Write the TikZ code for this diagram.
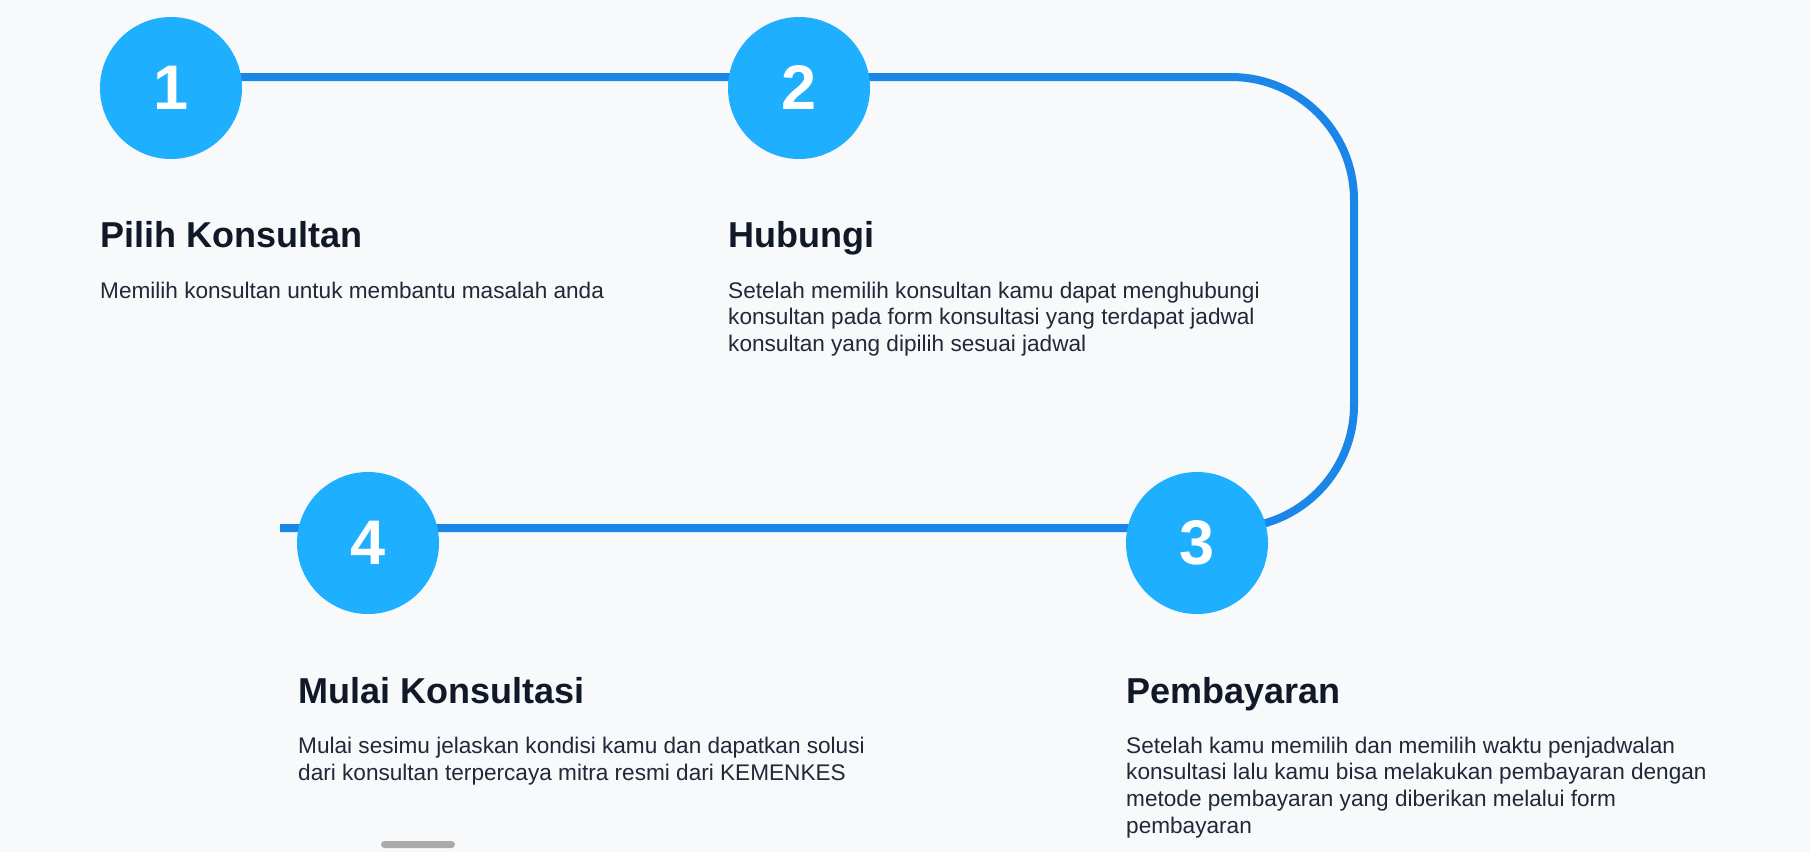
\documentclass[tikz,border=0pt]{standalone}
\usepackage{fontspec}
\setmainfont{Liberation Sans}
\usetikzlibrary{backgrounds}
\definecolor{bgpage}{HTML}{F8F9FB}
\definecolor{dotblue}{HTML}{1EAFFE}
\definecolor{trackblue}{HTML}{1A86E8}
\definecolor{titleink}{HTML}{111827}
\definecolor{bodyink}{HTML}{1F2937}
\definecolor{bargrey}{HTML}{AAAAAA}
\tikzset{
  stepdot/.style={circle, fill=dotblue, minimum size=142pt, inner sep=0pt, text=white, font=\fontsize{63}{63}\selectfont\bfseries},
  track/.style={trackblue, line width=8pt, rounded corners=123pt},
  steptitle/.style={anchor=base west, inner sep=0pt, text=titleink, font=\fontsize{36}{43}\selectfont\bfseries},
  stepbody/.style={anchor=base west, inner sep=0pt, align=left, text=bodyink, font=\fontsize{22.6}{26.7}\selectfont},
}
\begin{document}
\begin{tikzpicture}[x=1pt,y=-1pt]
    % Page frame
    \useasboundingbox (0,0) rectangle (1810,852);
    
    % Step circles
    \foreach \n/\x/\y in {1/171/88, 2/799/88, 3/1197/543, 4/368/543}
    \node[stepdot] (s\n) at (\x,\y) {\n};
    
    % Track behind the circles
    \coordinate (c1) at (1354,77);
    \coordinate (c2) at (1354,528);
    \coordinate (tail) at (280,528);
    \begin{scope}[on background layer]
    \fill[bgpage] (0,0) rectangle (1810,852);
    \draw[track] ([yshift=11pt]s1.center) -- (c1) -- (c2) -- (tail);
    \end{scope}
    
    % Step texts (body nodes sit on the baseline of their last line)
    \node[steptitle] (h1) at (100,247) {Pilih Konsultan};
    \node[stepbody] (p1) at (100,298) {Memilih konsultan untuk membantu masalah anda};
    \node[steptitle] (h2) at (728,247) {Hubungi};
    \node[stepbody] (p2) at (728,351.5) {Setelah memilih konsultan kamu dapat menghubungi\\konsultan pada form konsultasi yang terdapat jadwal\\konsultan yang dipilih sesuai jadwal};
    \node[steptitle] (h3) at (1126,703) {Pembayaran};
    \node[stepbody] (p3) at (1126,833.3) {Setelah kamu memilih dan memilih waktu penjadwalan\\konsultasi lalu kamu bisa melakukan pembayaran dengan\\metode pembayaran yang diberikan melalui form\\pembayaran};
    \node[steptitle] (h4) at (298,703) {Mulai Konsultasi};
    \node[stepbody] (p4) at (298,780) {Mulai sesimu jelaskan kondisi kamu dan dapatkan solusi\\dari konsultan terpercaya mitra resmi dari KEMENKES};
    
    % Scroll bar
    \fill[bargrey, rounded corners=3.5pt] (381,841) rectangle (455,848);
\end{tikzpicture}
\end{document}
